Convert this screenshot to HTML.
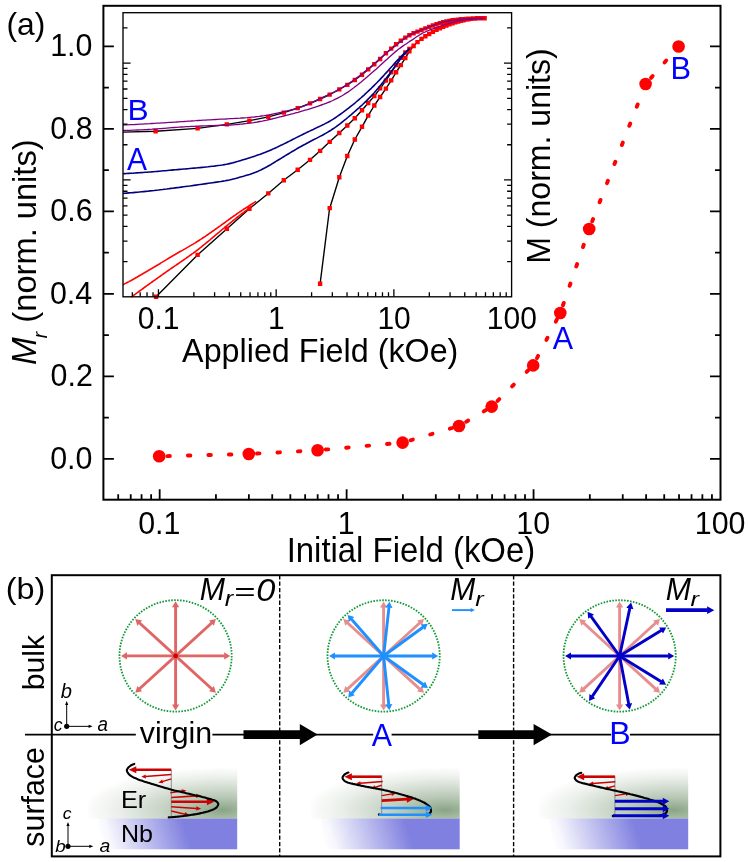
<!DOCTYPE html>
<html><head><meta charset="utf-8"><title>figure</title>
<style>html,body{margin:0;padding:0;background:#fff}svg{display:block}text{font-family:"Liberation Sans",sans-serif}</style>
</head><body>
<svg width="748" height="862" viewBox="0 0 748 862">
<rect width="748" height="862" fill="#fff"/>
<g style="opacity:0.9999">
<rect x="103.4" y="5.8" width="617.10" height="493.90" fill="none" stroke="#000" stroke-width="2"/>
<path d="M103.4 458.80h10.5M720.5 458.80h-10.5M103.4 417.55h5.5M720.5 417.55h-5.5M103.4 376.30h10.5M720.5 376.30h-10.5M103.4 335.05h5.5M720.5 335.05h-5.5M103.4 293.80h10.5M720.5 293.80h-10.5M103.4 252.55h5.5M720.5 252.55h-5.5M103.4 211.30h10.5M720.5 211.30h-10.5M103.4 170.05h5.5M720.5 170.05h-5.5M103.4 128.80h10.5M720.5 128.80h-10.5M103.4 87.55h5.5M720.5 87.55h-5.5M103.4 46.30h10.5M720.5 46.30h-10.5M118.20 499.7v-5.5M130.72 499.7v-5.5M141.56 499.7v-5.5M151.12 499.7v-5.5M159.68 499.7v-10.5M215.95 499.7v-5.5M248.87 499.7v-5.5M272.23 499.7v-5.5M290.34 499.7v-5.5M305.14 499.7v-5.5M317.66 499.7v-5.5M328.50 499.7v-5.5M338.06 499.7v-5.5M346.62 499.7v-10.5M402.89 499.7v-5.5M435.81 499.7v-5.5M459.17 499.7v-5.5M477.28 499.7v-5.5M492.09 499.7v-5.5M504.60 499.7v-5.5M515.44 499.7v-5.5M525.00 499.7v-5.5M533.56 499.7v-10.5M589.83 499.7v-5.5M622.75 499.7v-5.5M646.11 499.7v-5.5M664.22 499.7v-5.5M679.03 499.7v-5.5M691.54 499.7v-5.5M702.38 499.7v-5.5M711.95 499.7v-5.5" stroke="#000" stroke-width="1.8" fill="none"/>
<text transform="translate(50.18,468.60) scale(1,1.04)" font-family="Liberation Sans, sans-serif" font-size="30.40" font-style="normal" fill="#000">0.0</text>
<text transform="translate(50.56,386.10) scale(1,1.04)" font-family="Liberation Sans, sans-serif" font-size="30.40" font-style="normal" fill="#000">0.2</text>
<text transform="translate(49.88,303.60) scale(1,1.04)" font-family="Liberation Sans, sans-serif" font-size="30.40" font-style="normal" fill="#000">0.4</text>
<text transform="translate(50.34,221.10) scale(1,1.04)" font-family="Liberation Sans, sans-serif" font-size="30.40" font-style="normal" fill="#000">0.6</text>
<text transform="translate(50.34,138.60) scale(1,1.04)" font-family="Liberation Sans, sans-serif" font-size="30.40" font-style="normal" fill="#000">0.8</text>
<text transform="translate(50.18,56.10) scale(1,1.04)" font-family="Liberation Sans, sans-serif" font-size="30.40" font-style="normal" fill="#000">1.0</text>
<text transform="translate(138.14,534.30) scale(1,1.04)" font-family="Liberation Sans, sans-serif" font-size="30.40" font-style="normal" fill="#000">0.1</text>
<text transform="translate(337.76,534.30) scale(1,1.04)" font-family="Liberation Sans, sans-serif" font-size="30.40" font-style="normal" fill="#000">1</text>
<text transform="translate(516.25,534.30) scale(1,1.04)" font-family="Liberation Sans, sans-serif" font-size="30.40" font-style="normal" fill="#000">10</text>
<text transform="translate(694.74,534.30) scale(1,1.04)" font-family="Liberation Sans, sans-serif" font-size="30.40" font-style="normal" fill="#000">100</text>
<text transform="translate(286.66,561.80) scale(1,1.0400)" font-family="Liberation Sans, sans-serif" font-size="32.89" font-style="normal" fill="#000">Initial Field (kOe)</text>
<text transform="translate(36.10,365.10) rotate(-90) scale(1,1.0317)" font-family="Liberation Sans, sans-serif" font-size="33.27" font-style="italic" fill="#000">M</text>
<text transform="translate(47.30,338.14) rotate(-90) scale(1,0.9959)" font-family="Liberation Sans, sans-serif" font-size="19.43" font-style="italic" fill="#000">r</text>
<text transform="translate(36.10,322.64) rotate(-90) scale(1,1.0400)" font-family="Liberation Sans, sans-serif" font-size="32.67" font-style="normal" fill="#000">(norm. units)</text>
<text transform="translate(6.51,35.41) scale(1,0.9679)" font-family="Liberation Sans, sans-serif" font-size="31.80" font-style="normal" fill="#000">(a)</text>
<line x1="159.2" y1="456.3" x2="248.8" y2="454.0" stroke="#f00" stroke-width="3.9" stroke-linecap="round" stroke-dasharray="2.5 18.0" stroke-dashoffset="-8.2"/>
<line x1="248.8" y1="454.0" x2="317.6" y2="450.3" stroke="#f00" stroke-width="3.9" stroke-linecap="round" stroke-dasharray="2.5 18.0" stroke-dashoffset="-8.2"/>
<line x1="317.6" y1="450.3" x2="402.6" y2="442.6" stroke="#f00" stroke-width="3.9" stroke-linecap="round" stroke-dasharray="2.5 18.0" stroke-dashoffset="-8.2"/>
<line x1="402.6" y1="442.6" x2="459.0" y2="426.0" stroke="#f00" stroke-width="3.9" stroke-linecap="round" stroke-dasharray="2.5 18.0" stroke-dashoffset="-8.2"/>
<line x1="459.0" y1="426.0" x2="491.7" y2="406.6" stroke="#f00" stroke-width="3.9" stroke-linecap="round" stroke-dasharray="2.5 18.0" stroke-dashoffset="-8.2"/>
<line x1="491.7" y1="406.6" x2="533.2" y2="365.4" stroke="#f00" stroke-width="3.9" stroke-linecap="round" stroke-dasharray="2.5 18.0" stroke-dashoffset="-8.2"/>
<line x1="533.2" y1="365.4" x2="560.3" y2="313.0" stroke="#f00" stroke-width="3.9" stroke-linecap="round" stroke-dasharray="2.5 18.0" stroke-dashoffset="-8.2"/>
<line x1="560.3" y1="313.0" x2="589.2" y2="229.0" stroke="#f00" stroke-width="3.9" stroke-linecap="round" stroke-dasharray="2.5 18.0" stroke-dashoffset="-8.2"/>
<line x1="589.2" y1="229.0" x2="645.6" y2="84.0" stroke="#f00" stroke-width="3.9" stroke-linecap="round" stroke-dasharray="2.5 18.0" stroke-dashoffset="-8.2"/>
<line x1="645.6" y1="84.0" x2="678.6" y2="46.5" stroke="#f00" stroke-width="3.9" stroke-linecap="round" stroke-dasharray="2.5 18.0" stroke-dashoffset="-8.2"/>
<circle cx="159.2" cy="456.3" r="6.3" fill="#f00"/>
<circle cx="248.8" cy="454.0" r="6.3" fill="#f00"/>
<circle cx="317.6" cy="450.3" r="6.3" fill="#f00"/>
<circle cx="402.6" cy="442.6" r="6.3" fill="#f00"/>
<circle cx="459.0" cy="426.0" r="6.3" fill="#f00"/>
<circle cx="491.7" cy="406.6" r="6.3" fill="#f00"/>
<circle cx="533.2" cy="365.4" r="6.3" fill="#f00"/>
<circle cx="560.3" cy="313.0" r="6.3" fill="#f00"/>
<circle cx="589.2" cy="229.0" r="6.3" fill="#f00"/>
<circle cx="645.6" cy="84.0" r="6.3" fill="#f00"/>
<circle cx="678.6" cy="46.5" r="6.3" fill="#f00"/>
<text transform="translate(552.72,348.90) scale(1,1.0400)" font-family="Liberation Sans, sans-serif" font-size="30.49" font-style="normal" fill="#00f">A</text>
<text transform="translate(670.46,79.40) scale(1,1.0060)" font-family="Liberation Sans, sans-serif" font-size="30.80" font-style="normal" fill="#00f">B</text>
<clipPath id="ic"><rect x="123.0" y="12.7" width="388.60" height="286.50"/></clipPath>
<g clip-path="url(#ic)">
<polyline points="122.7,132.1 155.6,131.3 197.5,128.4 227.0,124.4 249.7,120.6 268.4,116.9 283.9,112.6 297.8,108.1 309.8,103.5 320.0,99.0 330.0,94.5 339.3,89.4 347.3,84.9 354.8,80.0 362.0,74.7 368.2,69.4 374.3,64.2 379.9,59.2 385.6,53.6 390.9,48.9 395.7,44.6 400.4,41.0 404.8,37.9 409.1,35.5 413.4,33.3 417.3,31.7 421.3,30.1 430.0,26.6 439.5,23.2 448.0,21.2 456.9,19.7 465.8,18.9 474.3,18.4 484.6,18.2" fill="none" stroke="#000" stroke-width="1.4" stroke-linejoin="round"/>
<polyline points="156.1,296.7 197.8,254.7 226.7,228.9 249.1,209.0 268.2,193.5 283.7,180.3 297.7,169.7 310.1,159.8 320.2,150.8 330.0,141.6 339.3,133.0 347.3,125.5 354.8,118.3 362.0,110.3 368.2,103.0 374.3,96.1 380.2,88.3 386.1,80.3 391.4,72.0 396.3,64.8 401.0,57.6 405.6,52.2 409.6,48.8 414.0,45.4 417.8,41.8 421.8,38.7 425.6,36.1 430.0,33.5 434.3,30.9 438.6,28.8 443.0,26.9 448.2,24.8 453.4,23.0 460.4,21.0 467.3,19.4 474.3,18.5 484.6,18.2" fill="none" stroke="#000" stroke-width="1.4" stroke-linejoin="round"/>
<polyline points="320.0,284.7 329.5,209.0 339.4,177.0 347.3,156.0 354.8,139.5 362.0,126.8 368.2,115.6 374.3,105.5 380.2,96.9 386.1,88.3 391.4,80.1 396.3,72.0 401.0,64.8 405.6,57.6 409.6,50.9 414.0,45.6" fill="none" stroke="#000" stroke-width="1.4" stroke-linejoin="round"/>
<polyline points="122.8,284.8 123.7,284.4 124.6,283.9 125.5,283.4 126.3,283.0 127.2,282.5 128.1,282.1 129.0,281.6 129.8,281.1 130.7,280.7 131.6,280.2 132.4,279.7 133.3,279.2 134.2,278.8 135.0,278.3 135.9,277.8 136.8,277.3 137.6,276.8 138.5,276.3 139.3,275.8 140.2,275.3 141.1,274.8 141.9,274.3 142.8,273.8 143.6,273.3 144.5,272.8 145.3,272.3 146.2,271.8 147.0,271.3 147.9,270.8 148.7,270.3 149.6,269.8 150.4,269.3 151.3,268.8 152.1,268.3 153.0,267.8 153.8,267.3 154.7,266.7 155.5,266.2 156.4,265.7 157.2,265.2 158.1,264.7 158.9,264.2 159.8,263.7 160.6,263.2 161.4,262.6 162.3,262.1 163.1,261.6 164.0,261.1 164.8,260.6 165.7,260.1 166.5,259.6 167.4,259.1 168.2,258.5 169.1,258.0 169.9,257.5 170.8,257.0 171.6,256.5 172.5,256.0 173.3,255.5 174.2,255.0 175.1,254.5 175.9,254.0 176.8,253.5 177.6,253.0 178.5,252.5 179.3,252.0 180.2,251.5 181.1,251.0 181.9,250.6 182.8,250.1 183.6,249.6 184.5,249.1 185.4,248.6 186.2,248.1 187.1,247.6 187.9,247.1 188.8,246.6 189.6,246.1 190.5,245.6 191.4,245.1 192.2,244.6 193.1,244.1 193.9,243.6 194.8,243.1 195.6,242.6 196.4,242.0 197.3,241.5 198.1,241.0 199.0,240.5 199.8,239.9 200.6,239.4 201.5,238.9 202.3,238.3 203.1,237.8 203.9,237.2 204.8,236.7 205.6,236.1 206.4,235.6 207.2,235.0 208.0,234.5 208.8,233.9 209.7,233.3 210.5,232.8 211.3,232.2 212.1,231.6 212.9,231.0 213.7,230.5 214.5,229.9 215.3,229.3 216.1,228.8 216.9,228.2 217.7,227.6 218.6,227.0 219.4,226.4 220.2,225.9 221.0,225.3 221.8,224.7 222.6,224.1 223.4,223.5 224.2,223.0 225.0,222.4 225.8,221.8 226.6,221.2 227.4,220.6 228.2,220.1 229.0,219.5 229.8,218.9 230.6,218.3 231.4,217.8 232.2,217.2 233.0,216.6 233.8,216.0 234.6,215.5 235.5,214.9 236.3,214.3 237.1,213.8 237.9,213.2 238.7,212.6 239.5,212.1 240.3,211.5 241.2,211.0 242.0,210.4 242.8,209.9 243.6,209.3 244.4,208.8 245.3,208.2 246.1,207.7 246.9,207.1 247.8,206.6 248.6,206.1 249.4,205.5 250.3,205.0 251.1,204.5 252.0,204.0 252.8,203.4 253.6,202.9 254.5,202.4 255.3,201.9 256.2,201.4" fill="none" stroke="#f00" stroke-width="1.6" stroke-linejoin="round" />
<polyline points="131.2,297.2 132.0,296.6 132.7,296.1 133.5,295.5 134.3,294.9 135.0,294.4 135.8,293.8 136.6,293.2 137.3,292.7 138.1,292.1 138.9,291.5 139.6,291.0 140.4,290.4 141.2,289.8 141.9,289.3 142.7,288.7 143.5,288.2 144.2,287.6 145.0,287.0 145.8,286.5 146.5,285.9 147.3,285.4 148.1,284.8 148.9,284.3 149.6,283.7 150.4,283.1 151.2,282.6 152.0,282.0 152.7,281.5 153.5,280.9 154.3,280.4 155.1,279.8 155.8,279.3 156.6,278.7 157.4,278.2 158.2,277.6 158.9,277.1 159.7,276.5 160.5,276.0 161.3,275.4 162.0,274.9 162.8,274.3 163.6,273.8 164.4,273.2 165.2,272.7 165.9,272.1 166.7,271.6 167.5,271.0 168.3,270.5 169.1,270.0 169.8,269.4 170.6,268.9 171.4,268.3 172.2,267.8 173.0,267.2 173.8,266.7 174.5,266.2 175.3,265.6 176.1,265.1 176.9,264.5 177.7,264.0 178.5,263.5 179.3,262.9 180.0,262.4 180.8,261.9 181.6,261.3 182.4,260.8 183.2,260.2 184.0,259.7 184.7,259.1 185.5,258.6 186.3,258.1 187.1,257.5 187.9,257.0 188.6,256.4 189.4,255.9 190.2,255.3 191.0,254.8 191.7,254.2 192.5,253.6 193.3,253.1 194.1,252.5 194.8,252.0 195.6,251.4 196.3,250.8 197.1,250.2 197.9,249.7 198.6,249.1 199.4,248.5 200.1,247.9 200.9,247.3 201.6,246.7 202.3,246.1 203.1,245.5 203.8,244.9 204.6,244.3 205.3,243.7 206.0,243.1 206.8,242.5 207.5,241.9 208.2,241.3 209.0,240.7 209.7,240.1 210.4,239.5 211.1,238.8 211.9,238.2 212.6,237.6 213.3,237.0 214.1,236.4 214.8,235.8 215.5,235.2 216.2,234.5 217.0,233.9 217.7,233.3 218.4,232.7 219.2,232.1 219.9,231.5 220.6,230.9 221.3,230.2 222.1,229.6 222.8,229.0 223.5,228.4 224.3,227.8 225.0,227.2 225.7,226.6 226.5,226.0 227.2,225.4 227.9,224.8 228.7,224.2 229.4,223.6 230.2,223.0 230.9,222.4 231.6,221.8 232.4,221.2 233.1,220.6 233.9,220.0 234.6,219.4 235.4,218.8 236.1,218.2 236.8,217.6 237.6,217.0 238.3,216.5 239.1,215.9 239.8,215.3 240.6,214.7 241.3,214.1 242.1,213.5 242.9,213.0 243.6,212.4 244.4,211.8 245.1,211.2 245.9,210.6 246.6,210.1 247.4,209.5 248.2,208.9 248.9,208.4 249.7,207.8 250.5,207.2 251.2,206.7 252.0,206.1" fill="none" stroke="#f00" stroke-width="1.6" stroke-linejoin="round" />
<path d="M153.4 129.1h4.4v4.4h-4.4zM195.4 126.2h4.4v4.4h-4.4zM224.6 122.2h4.4v4.4h-4.4zM247.2 118.5h4.4v4.4h-4.4zM266.1 114.7h4.4v4.4h-4.4zM281.6 110.4h4.4v4.4h-4.4zM295.5 105.9h4.4v4.4h-4.4zM307.8 101.2h4.4v4.4h-4.4zM317.9 96.8h4.4v4.4h-4.4zM327.5 92.4h4.4v4.4h-4.4zM337.1 87.2h4.4v4.4h-4.4zM345.1 82.7h4.4v4.4h-4.4zM352.6 77.8h4.4v4.4h-4.4zM359.8 72.5h4.4v4.4h-4.4zM366.0 67.2h4.4v4.4h-4.4zM372.1 62.0h4.4v4.4h-4.4zM377.9 56.8h4.4v4.4h-4.4zM383.7 51.1h4.4v4.4h-4.4zM389.0 46.4h4.4v4.4h-4.4zM393.9 42.1h4.4v4.4h-4.4zM398.6 38.5h4.4v4.4h-4.4zM403.1 35.4h4.4v4.4h-4.4zM407.2 33.1h4.4v4.4h-4.4zM411.4 31.0h4.4v4.4h-4.4zM415.3 29.4h4.4v4.4h-4.4zM419.3 27.8h4.4v4.4h-4.4zM423.2 26.2h4.4v4.4h-4.4zM427.0 24.7h4.4v4.4h-4.4zM430.7 23.3h4.4v4.4h-4.4zM434.3 22.0h4.4v4.4h-4.4zM437.7 20.9h4.4v4.4h-4.4zM441.0 20.0h4.4v4.4h-4.4zM444.2 19.3h4.4v4.4h-4.4zM447.3 18.7h4.4v4.4h-4.4zM450.3 18.1h4.4v4.4h-4.4zM453.2 17.7h4.4v4.4h-4.4zM456.0 17.4h4.4v4.4h-4.4zM458.7 17.1h4.4v4.4h-4.4zM461.3 16.9h4.4v4.4h-4.4zM463.8 16.7h4.4v4.4h-4.4zM466.2 16.5h4.4v4.4h-4.4zM468.5 16.4h4.4v4.4h-4.4zM470.8 16.2h4.4v4.4h-4.4zM472.9 16.2h4.4v4.4h-4.4zM475.0 16.1h4.4v4.4h-4.4zM477.0 16.1h4.4v4.4h-4.4zM479.0 16.1h4.4v4.4h-4.4zM480.9 16.1h4.4v4.4h-4.4zM482.4 16.1h4.4v4.4h-4.4zM153.9 294.5h4.4v4.4h-4.4zM195.4 252.7h4.4v4.4h-4.4zM224.6 226.6h4.4v4.4h-4.4zM247.2 206.5h4.4v4.4h-4.4zM266.1 191.2h4.4v4.4h-4.4zM281.6 178.0h4.4v4.4h-4.4zM295.5 167.5h4.4v4.4h-4.4zM307.8 157.7h4.4v4.4h-4.4zM317.9 148.7h4.4v4.4h-4.4zM327.5 139.7h4.4v4.4h-4.4zM337.1 130.8h4.4v4.4h-4.4zM345.1 123.3h4.4v4.4h-4.4zM352.6 116.1h4.4v4.4h-4.4zM359.8 108.1h4.4v4.4h-4.4zM366.0 100.8h4.4v4.4h-4.4zM372.1 93.9h4.4v4.4h-4.4zM377.9 86.2h4.4v4.4h-4.4zM383.7 78.4h4.4v4.4h-4.4zM389.0 70.1h4.4v4.4h-4.4zM393.9 62.9h4.4v4.4h-4.4zM398.6 55.7h4.4v4.4h-4.4zM403.1 50.3h4.4v4.4h-4.4zM407.2 46.8h4.4v4.4h-4.4zM411.4 43.5h4.4v4.4h-4.4zM415.3 39.9h4.4v4.4h-4.4zM419.3 36.7h4.4v4.4h-4.4zM423.2 34.0h4.4v4.4h-4.4zM427.0 31.8h4.4v4.4h-4.4zM430.7 29.5h4.4v4.4h-4.4zM434.3 27.6h4.4v4.4h-4.4zM437.7 26.0h4.4v4.4h-4.4zM441.0 24.6h4.4v4.4h-4.4zM444.2 23.3h4.4v4.4h-4.4zM447.3 22.1h4.4v4.4h-4.4zM450.3 21.1h4.4v4.4h-4.4zM453.2 20.2h4.4v4.4h-4.4zM456.0 19.4h4.4v4.4h-4.4zM458.7 18.7h4.4v4.4h-4.4zM461.3 18.0h4.4v4.4h-4.4zM463.8 17.4h4.4v4.4h-4.4zM466.2 17.0h4.4v4.4h-4.4zM468.5 16.7h4.4v4.4h-4.4zM470.8 16.4h4.4v4.4h-4.4zM472.9 16.3h4.4v4.4h-4.4zM475.0 16.2h4.4v4.4h-4.4zM477.0 16.1h4.4v4.4h-4.4zM479.0 16.1h4.4v4.4h-4.4zM480.9 16.1h4.4v4.4h-4.4zM482.4 16.1h4.4v4.4h-4.4zM317.9 281.5h4.4v4.4h-4.4zM327.5 205.9h4.4v4.4h-4.4zM337.1 175.1h4.4v4.4h-4.4zM345.1 153.8h4.4v4.4h-4.4zM352.6 137.3h4.4v4.4h-4.4zM359.8 124.6h4.4v4.4h-4.4zM366.0 113.4h4.4v4.4h-4.4zM372.1 103.3h4.4v4.4h-4.4zM377.9 94.8h4.4v4.4h-4.4zM383.7 86.4h4.4v4.4h-4.4zM389.0 78.2h4.4v4.4h-4.4zM393.9 70.1h4.4v4.4h-4.4zM398.6 62.9h4.4v4.4h-4.4zM403.1 55.9h4.4v4.4h-4.4zM407.2 49.0h4.4v4.4h-4.4zM411.4 43.8h4.4v4.4h-4.4z" fill="#f00"/>
<polyline points="122.7,173.7 124.7,173.6 126.8,173.5 128.8,173.4 130.9,173.3 132.9,173.2 134.9,173.0 137.0,172.9 139.0,172.8 141.0,172.6 143.1,172.5 145.1,172.3 147.2,172.2 149.2,172.0 151.2,171.9 153.3,171.7 155.3,171.5 157.3,171.4 159.4,171.2 161.4,171.0 163.4,170.8 165.5,170.7 167.5,170.5 169.5,170.3 171.6,170.1 173.6,169.9 175.6,169.8 177.7,169.6 179.7,169.4 181.7,169.2 183.8,169.0 185.8,168.9 187.8,168.7 189.9,168.5 191.9,168.3 193.9,168.1 196.0,168.0 198.0,167.8 200.0,167.6 202.1,167.4 204.1,167.2 206.1,167.0 208.2,166.8 210.2,166.5 212.2,166.3 214.3,166.1 216.3,165.8 218.3,165.5 220.3,165.3 222.4,165.0 224.4,164.6 226.4,164.3 228.4,163.9 230.4,163.4 232.3,162.9 234.3,162.4 236.3,161.8 238.2,161.3 240.2,160.7 242.2,160.1 244.1,159.5 246.1,158.9 248.0,158.3 250.0,157.7 251.9,157.1 253.9,156.4 255.8,155.8 257.7,155.1 259.6,154.5 261.6,153.7 263.5,153.0 265.4,152.3 267.3,151.5 269.1,150.7 271.0,149.9 272.9,149.1 274.8,148.2 276.6,147.4 278.5,146.5 280.3,145.6 282.2,144.8 284.0,143.9 285.8,143.0 287.7,142.0 289.5,141.1 291.3,140.2 293.1,139.3 294.9,138.4 296.8,137.4 298.6,136.5 300.4,135.6 302.2,134.7 304.1,133.8 305.9,132.9 307.7,132.0 309.6,131.1 311.4,130.2 313.3,129.4 315.1,128.5 317.0,127.6 318.8,126.8 320.7,125.9 322.5,125.0 324.3,124.1 326.1,123.1 327.9,122.2 329.7,121.2 331.5,120.1 333.2,119.1 334.9,118.0 336.6,116.8 338.3,115.7 340.0,114.5 341.6,113.3 343.3,112.1 344.9,110.9 346.6,109.6 348.2,108.4 349.8,107.1 351.4,105.8 353.0,104.6 354.6,103.3 356.1,102.0 357.7,100.7 359.2,99.3 360.8,98.0 362.3,96.6 363.8,95.3 365.3,93.9 366.8,92.5 368.3,91.1 369.8,89.7 371.3,88.3 372.7,86.9 374.2,85.4 375.6,84.0 377.1,82.5 378.5,81.0 379.9,79.6 381.3,78.1 382.7,76.6 384.1,75.1 385.4,73.6 386.8,72.1 388.2,70.6 389.5,69.0 390.9,67.5 392.3,66.0 393.6,64.5 395.0,62.9 396.4,61.4 397.8,59.9 399.2,58.5 400.6,57.0 402.0,55.6 403.5,54.1 405.0,52.7 406.5,51.4 408.0,50.0 409.6,48.7" fill="none" stroke="#000080" stroke-width="1.6" stroke-linejoin="round" />
<polyline points="122.7,193.4 124.8,193.3 126.9,193.1 129.0,192.9 131.1,192.8 133.2,192.6 135.3,192.4 137.4,192.2 139.5,192.0 141.6,191.8 143.7,191.6 145.8,191.4 147.9,191.2 150.0,190.9 152.1,190.7 154.2,190.5 156.3,190.2 158.4,190.0 160.5,189.7 162.5,189.5 164.6,189.2 166.7,189.0 168.8,188.7 170.9,188.4 173.0,188.2 175.1,187.9 177.2,187.6 179.3,187.4 181.4,187.1 183.4,186.8 185.5,186.5 187.6,186.2 189.7,186.0 191.8,185.7 193.9,185.4 196.0,185.1 198.1,184.8 200.1,184.5 202.2,184.2 204.3,183.9 206.4,183.6 208.5,183.3 210.6,183.0 212.7,182.7 214.8,182.4 216.8,182.1 218.9,181.8 221.0,181.5 223.1,181.1 225.2,180.8 227.2,180.4 229.3,180.0 231.4,179.5 233.4,179.0 235.4,178.5 237.5,177.9 239.5,177.3 241.5,176.7 243.6,176.2 245.6,175.6 247.6,175.0 249.6,174.4 251.6,173.7 253.6,173.0 255.6,172.3 257.5,171.5 259.4,170.6 261.3,169.7 263.2,168.7 265.1,167.8 267.0,166.8 268.8,165.7 270.6,164.7 272.4,163.6 274.2,162.5 276.0,161.4 277.8,160.3 279.6,159.2 281.4,158.1 283.2,157.0 285.0,155.9 286.8,154.8 288.6,153.7 290.4,152.6 292.2,151.5 294.1,150.5 295.9,149.4 297.7,148.3 299.5,147.3 301.4,146.3 303.2,145.2 305.1,144.2 306.9,143.2 308.8,142.2 310.6,141.3 312.5,140.3 314.4,139.3 316.3,138.4 318.2,137.4 320.0,136.4 321.9,135.5 323.7,134.5 325.6,133.4 327.4,132.4 329.2,131.3 331.0,130.2 332.7,129.0 334.5,127.8 336.2,126.6 337.9,125.3 339.6,124.1 341.2,122.8 342.9,121.5 344.5,120.1 346.2,118.8 347.8,117.5 349.4,116.1 351.0,114.8 352.6,113.4 354.2,112.0 355.8,110.6 357.4,109.2 359.0,107.8 360.5,106.4 362.1,105.0 363.6,103.5 365.1,102.1 366.7,100.6 368.1,99.1 369.6,97.6 371.1,96.1 372.5,94.6 374.0,93.0 375.4,91.4 376.7,89.8 378.1,88.2 379.5,86.6 380.8,85.0 382.1,83.3 383.4,81.7 384.7,80.0 386.0,78.4 387.3,76.7 388.6,75.0 389.9,73.4 391.2,71.7 392.4,70.0 393.7,68.3 395.0,66.6 396.2,64.9 397.4,63.2 398.7,61.5 399.9,59.8 401.2,58.1 402.5,56.5 403.8,54.9 405.2,53.3 406.6,51.7 408.1,50.2 409.6,48.7" fill="none" stroke="#000080" stroke-width="1.6" stroke-linejoin="round" />
<polyline points="122.7,125.0 125.1,124.9 127.6,124.8 130.0,124.7 132.5,124.6 134.9,124.5 137.3,124.3 139.8,124.2 142.2,124.1 144.7,123.9 147.1,123.8 149.5,123.7 152.0,123.5 154.4,123.4 156.9,123.2 159.3,123.1 161.7,122.9 164.2,122.8 166.6,122.6 169.0,122.4 171.5,122.3 173.9,122.1 176.4,122.0 178.8,121.8 181.2,121.6 183.7,121.5 186.1,121.3 188.5,121.1 191.0,121.0 193.4,120.8 195.9,120.7 198.3,120.5 200.7,120.4 203.2,120.2 205.6,120.1 208.1,119.9 210.5,119.8 212.9,119.6 215.4,119.5 217.8,119.4 220.2,119.2 222.7,119.1 225.1,119.0 227.6,118.8 230.0,118.7 232.4,118.6 234.9,118.4 237.3,118.3 239.8,118.2 242.2,118.0 244.7,117.8 247.1,117.7 249.5,117.4 252.0,117.2 254.4,117.0 256.8,116.7 259.2,116.4 261.6,116.0 264.1,115.7 266.5,115.3 268.9,114.9 271.3,114.4 273.7,113.9 276.1,113.4 278.5,112.9 280.9,112.4 283.2,111.9 285.6,111.3 288.0,110.7 290.4,110.1 292.8,109.5 295.1,108.8 297.5,108.1 299.8,107.4 302.1,106.6 304.4,105.8 306.7,104.9 308.9,104.0 311.2,103.0 313.4,101.9 315.6,100.9 317.8,99.8 320.0,98.7 322.2,97.7 324.4,96.6 326.6,95.6 328.8,94.6 331.0,93.6 333.2,92.5 335.4,91.4 337.6,90.2 339.7,89.0 341.8,87.8 343.9,86.5 346.0,85.3 348.0,83.9 350.1,82.6 352.1,81.2 354.1,79.8 356.1,78.4 358.1,76.9 360.0,75.5 361.9,74.0 363.8,72.4 365.7,70.9 367.6,69.3 369.5,67.8 371.3,66.2 373.2,64.6 375.0,63.0 376.9,61.3 378.7,59.7 380.5,58.1 382.4,56.5 384.2,54.9 386.1,53.3 387.9,51.8 389.8,50.2 391.7,48.7 393.7,47.2 395.6,45.7 397.5,44.2 399.4,42.6 401.3,41.1 403.2,39.6 405.2,38.1 407.2,36.6 409.2,35.3 411.3,34.2 413.5,33.1 415.8,32.2 418.1,31.3 420.4,30.4 422.6,29.5 424.9,28.5 427.2,27.6 429.5,26.7 431.7,25.8 434.0,25.0 436.3,24.1 438.6,23.4 441.0,22.7 443.3,22.0 445.7,21.5 448.1,21.0 450.5,20.5 452.9,20.2 455.3,19.8 457.8,19.5 460.2,19.2 462.6,19.0 465.1,18.8 467.5,18.6 469.9,18.5 472.4,18.4 474.8,18.3 477.3,18.2 479.7,18.2 482.2,18.2 484.6,18.2" fill="none" stroke="#800080" stroke-width="1.35" stroke-linejoin="round" />
<polyline points="122.7,130.5 125.2,130.5 127.6,130.4 130.1,130.3 132.5,130.2 135.0,130.1 137.4,130.0 139.9,129.9 142.3,129.8 144.8,129.6 147.2,129.5 149.7,129.3 152.1,129.2 154.6,129.0 157.0,128.8 159.5,128.6 161.9,128.5 164.4,128.3 166.8,128.1 169.3,127.9 171.7,127.7 174.2,127.5 176.6,127.4 179.1,127.2 181.5,127.0 184.0,126.9 186.4,126.7 188.9,126.6 191.3,126.4 193.8,126.3 196.2,126.2 198.7,126.1 201.1,126.0 203.6,125.9 206.0,125.8 208.5,125.7 210.9,125.7 213.4,125.6 215.8,125.5 218.3,125.5 220.7,125.4 223.2,125.3 225.7,125.2 228.1,125.1 230.6,125.0 233.0,124.8 235.5,124.6 237.9,124.5 240.4,124.2 242.8,124.0 245.2,123.7 247.7,123.4 250.1,123.1 252.5,122.8 255.0,122.4 257.4,122.0 259.8,121.5 262.2,121.1 264.6,120.6 267.0,120.1 269.4,119.5 271.8,119.0 274.2,118.4 276.6,117.8 279.0,117.2 281.4,116.6 283.7,116.0 286.1,115.4 288.5,114.8 290.9,114.2 293.2,113.6 295.6,112.9 298.0,112.3 300.3,111.6 302.7,110.9 305.1,110.2 307.4,109.6 309.8,108.8 312.1,108.1 314.4,107.4 316.8,106.6 319.1,105.8 321.4,105.0 323.7,104.2 326.0,103.3 328.3,102.4 330.6,101.5 332.8,100.5 335.0,99.4 337.2,98.3 339.4,97.2 341.6,96.0 343.7,94.7 345.7,93.4 347.8,92.1 349.8,90.7 351.8,89.2 353.8,87.8 355.7,86.3 357.7,84.8 359.6,83.2 361.5,81.7 363.4,80.1 365.3,78.5 367.1,76.9 369.0,75.3 370.8,73.7 372.7,72.1 374.5,70.5 376.4,68.9 378.2,67.2 380.0,65.6 381.8,63.9 383.6,62.3 385.5,60.6 387.3,59.0 389.1,57.3 390.9,55.7 392.8,54.0 394.6,52.4 396.5,50.9 398.4,49.3 400.4,47.9 402.4,46.4 404.4,45.0 406.4,43.7 408.5,42.3 410.5,40.9 412.6,39.6 414.6,38.2 416.6,36.8 418.7,35.5 420.8,34.2 422.9,33.0 425.1,32.0 427.4,31.0 429.6,30.0 431.9,29.1 434.3,28.3 436.6,27.5 438.9,26.7 441.3,25.9 443.6,25.1 445.9,24.4 448.3,23.6 450.6,22.9 453.0,22.3 455.4,21.7 457.7,21.1 460.2,20.7 462.6,20.3 465.0,19.9 467.4,19.6 469.9,19.4 472.3,19.2 474.8,19.0 477.3,18.8 479.7,18.6 482.2,18.5 484.6,18.4" fill="none" stroke="#800080" stroke-width="1.35" stroke-linejoin="round" />
</g>
<rect x="123.0" y="12.7" width="388.60" height="284.10" fill="none" stroke="#000" stroke-width="1.35"/>
<path d="M123.0 261.62h4.5M511.6 261.62h-4.5M123.0 241.05h4.5M511.6 241.05h-4.5M123.0 226.45h4.5M511.6 226.45h-4.5M123.0 215.13h4.5M511.6 215.13h-4.5M123.0 205.87h4.5M511.6 205.87h-4.5M123.0 198.05h4.5M511.6 198.05h-4.5M123.0 191.27h4.5M511.6 191.27h-4.5M123.0 185.30h4.5M511.6 185.30h-4.5M123.0 179.95h7.6M511.6 179.95h-7.6M123.0 144.77h4.5M511.6 144.77h-4.5M123.0 124.20h4.5M511.6 124.20h-4.5M123.0 109.60h4.5M511.6 109.60h-4.5M123.0 98.28h4.5M511.6 98.28h-4.5M123.0 89.02h4.5M511.6 89.02h-4.5M123.0 81.20h4.5M511.6 81.20h-4.5M123.0 74.42h4.5M511.6 74.42h-4.5M123.0 68.45h4.5M511.6 68.45h-4.5M123.0 63.10h7.6M511.6 63.10h-7.6M123.0 27.92h4.5M511.6 27.92h-4.5M132.32 296.8v-4.5M140.20 296.8v-4.5M147.03 296.8v-4.5M153.05 296.8v-4.5M158.44 296.8v-7.6M193.88 296.8v-4.5M214.60 296.8v-4.5M229.31 296.8v-4.5M240.72 296.8v-4.5M250.04 296.8v-4.5M257.92 296.8v-4.5M264.75 296.8v-4.5M270.77 296.8v-4.5M276.16 296.8v-7.6M311.60 296.8v-4.5M332.33 296.8v-4.5M347.03 296.8v-4.5M358.44 296.8v-4.5M367.76 296.8v-4.5M375.64 296.8v-4.5M382.47 296.8v-4.5M388.49 296.8v-4.5M393.88 296.8v-7.6M429.32 296.8v-4.5M450.05 296.8v-4.5M464.75 296.8v-4.5M476.16 296.8v-4.5M485.48 296.8v-4.5M493.36 296.8v-4.5M500.19 296.8v-4.5M506.21 296.8v-4.5" stroke="#000" stroke-width="1.3" fill="none"/>
<text transform="translate(137.78,328.80) scale(1,1.04)" font-family="Liberation Sans, sans-serif" font-size="30.00" font-style="normal" fill="#000">0.1</text>
<text transform="translate(268.02,328.80) scale(1,1.04)" font-family="Liberation Sans, sans-serif" font-size="30.00" font-style="normal" fill="#000">1</text>
<text transform="translate(377.39,328.80) scale(1,1.04)" font-family="Liberation Sans, sans-serif" font-size="30.00" font-style="normal" fill="#000">10</text>
<text transform="translate(486.77,328.80) scale(1,1.04)" font-family="Liberation Sans, sans-serif" font-size="30.00" font-style="normal" fill="#000">100</text>
<text transform="translate(182.12,361.80) scale(1,1.0400)" font-family="Liberation Sans, sans-serif" font-size="32.28" font-style="normal" fill="#000">Applied Field (kOe)</text>
<text transform="translate(550.00,263.74) rotate(-90) scale(1,1.0400)" font-family="Liberation Sans, sans-serif" font-size="32.05" font-style="normal" fill="#000">M (norm. units)</text>
<text transform="translate(127.38,120.40) scale(1,0.9579)" font-family="Liberation Sans, sans-serif" font-size="31.74" font-style="normal" fill="#00f">B</text>
<text transform="translate(127.12,169.70) scale(1,1.0411)" font-family="Liberation Sans, sans-serif" font-size="30.04" font-style="normal" fill="#00f">A</text>
<defs>
<linearGradient id="nb" x1="0" y1="0" x2="1" y2="0"><stop offset="0" stop-color="#8080e0" stop-opacity="0"/>
<stop offset="0.1" stop-color="#8080e0" stop-opacity="0.06"/>
<stop offset="0.62" stop-color="#8080e0" stop-opacity="1"/><stop offset="1" stop-color="#8080e0"/></linearGradient>
</defs>
<radialGradient id="er237" gradientUnits="userSpaceOnUse" cx="0" cy="0" r="1" gradientTransform="translate(222.2 810) scale(140 43)"><stop offset="0" stop-color="#64875f" stop-opacity="0.76"/><stop offset="0.12" stop-color="#64875f" stop-opacity="0.63"/><stop offset="0.3" stop-color="#64875f" stop-opacity="0.46"/><stop offset="0.5" stop-color="#64875f" stop-opacity="0.31"/><stop offset="0.75" stop-color="#64875f" stop-opacity="0.13"/><stop offset="1" stop-color="#64875f" stop-opacity="0"/></radialGradient>
<rect x="88.19999999999999" y="762" width="149.0" height="56.8" fill="url(#er237)"/>
<linearGradient id="nb237" gradientUnits="userSpaceOnUse" x1="98.7" y1="834" x2="178.8" y2="808.8"><stop offset="0" stop-color="#8080e0" stop-opacity="0"/><stop offset="0.12" stop-color="#8080e0" stop-opacity="0.07"/><stop offset="1" stop-color="#8080e0" stop-opacity="1"/></linearGradient>
<rect x="98.7" y="818.6" width="138.5" height="30.7" fill="url(#nb237)"/>
<radialGradient id="er459" gradientUnits="userSpaceOnUse" cx="0" cy="0" r="1" gradientTransform="translate(444.7 810) scale(140 43)"><stop offset="0" stop-color="#64875f" stop-opacity="0.76"/><stop offset="0.12" stop-color="#64875f" stop-opacity="0.63"/><stop offset="0.3" stop-color="#64875f" stop-opacity="0.46"/><stop offset="0.5" stop-color="#64875f" stop-opacity="0.31"/><stop offset="0.75" stop-color="#64875f" stop-opacity="0.13"/><stop offset="1" stop-color="#64875f" stop-opacity="0"/></radialGradient>
<rect x="310.7" y="762" width="149.0" height="56.8" fill="url(#er459)"/>
<linearGradient id="nb459" gradientUnits="userSpaceOnUse" x1="321.2" y1="834" x2="401.3" y2="808.8"><stop offset="0" stop-color="#8080e0" stop-opacity="0"/><stop offset="0.12" stop-color="#8080e0" stop-opacity="0.07"/><stop offset="1" stop-color="#8080e0" stop-opacity="1"/></linearGradient>
<rect x="321.2" y="818.6" width="138.5" height="30.7" fill="url(#nb459)"/>
<radialGradient id="er688" gradientUnits="userSpaceOnUse" cx="0" cy="0" r="1" gradientTransform="translate(673.2 810) scale(140 43)"><stop offset="0" stop-color="#64875f" stop-opacity="0.76"/><stop offset="0.12" stop-color="#64875f" stop-opacity="0.63"/><stop offset="0.3" stop-color="#64875f" stop-opacity="0.46"/><stop offset="0.5" stop-color="#64875f" stop-opacity="0.31"/><stop offset="0.75" stop-color="#64875f" stop-opacity="0.13"/><stop offset="1" stop-color="#64875f" stop-opacity="0"/></radialGradient>
<rect x="539.2" y="762" width="149.0" height="56.8" fill="url(#er688)"/>
<linearGradient id="nb688" gradientUnits="userSpaceOnUse" x1="549.7" y1="834" x2="629.8" y2="808.8"><stop offset="0" stop-color="#8080e0" stop-opacity="0"/><stop offset="0.12" stop-color="#8080e0" stop-opacity="0.07"/><stop offset="1" stop-color="#8080e0" stop-opacity="1"/></linearGradient>
<rect x="549.7" y="818.6" width="138.5" height="30.7" fill="url(#nb688)"/>
<rect x="51.8" y="575.2" width="668.60" height="281.20" fill="none" stroke="#000" stroke-width="2"/>
<path d="M25 734.6H720.4" stroke="#000" stroke-width="1.7"/>
<path d="M279.7 575.2V856.4M513.6 575.2V856.4" stroke="#000" stroke-width="1.4" stroke-dasharray="4.3 2.05" fill="none"/>
<path d="M243.5 730.2H299.8V724.0L317.6 734.6L299.8 745.2V739.0H243.5z" fill="#000"/>
<path d="M478.3 730.2H533.6V724.0L552.0 734.6L533.6 745.2V739.0H478.3z" fill="#000"/>
<rect x="135.8" y="722.6" width="76.6" height="24" fill="#fff"/>
<text transform="translate(139.75,742.86) scale(1,0.9757)" font-family="Liberation Sans, sans-serif" font-size="30.33" font-style="normal" fill="#000">virgin</text>
<rect x="373.2" y="722.6" width="18.4" height="24" fill="#fff"/>
<text transform="translate(371.82,746.10) scale(1,1.0595)" font-family="Liberation Sans, sans-serif" font-size="30.34" font-style="normal" fill="#00f">A</text>
<rect x="611.2" y="722.6" width="18.7" height="24" fill="#fff"/>
<text transform="translate(609.35,744.40) scale(1,0.9738)" font-family="Liberation Sans, sans-serif" font-size="32.11" font-style="normal" fill="#00f">B</text>
<text transform="translate(5.77,598.70) scale(1,0.9058)" font-family="Liberation Sans, sans-serif" font-size="32.44" font-style="normal" fill="#000">(b)</text>
<text transform="translate(43.60,690.16) rotate(-90) scale(1,1.0075)" font-family="Liberation Sans, sans-serif" font-size="30.11" font-style="normal" fill="#000">bulk</text>
<text transform="translate(43.79,846.64) rotate(-90) scale(1,1.0340)" font-family="Liberation Sans, sans-serif" font-size="30.37" font-style="normal" fill="#000">surface</text>
<ellipse cx="175.6" cy="655.9" rx="56.1" ry="55.7" fill="none" stroke="#119a33" stroke-width="1.8" stroke-dasharray="1.6 1.372"/>
<ellipse cx="383.65" cy="655.95" rx="56.1" ry="55.7" fill="none" stroke="#119a33" stroke-width="1.8" stroke-dasharray="1.6 1.372"/>
<ellipse cx="619.65" cy="655.95" rx="56.1" ry="55.7" fill="none" stroke="#119a33" stroke-width="1.8" stroke-dasharray="1.6 1.372"/>
<path d="M175.6 655.9L224.7 655.9" stroke="#e06666" stroke-width="2.9" fill="none"/>
<path d="M230.2 655.9L224.2 659.5L224.2 652.3z" fill="#e06666"/>
<path d="M175.6 655.9L211.9 622.8" stroke="#e06666" stroke-width="2.9" fill="none"/>
<path d="M215.9 619.1L213.9 625.8L209.1 620.5z" fill="#e06666"/>
<path d="M175.6 655.9L175.6 606.8" stroke="#e06666" stroke-width="2.9" fill="none"/>
<path d="M175.6 601.3L179.2 607.3L172.0 607.3z" fill="#e06666"/>
<path d="M175.6 655.9L139.3 622.8" stroke="#e06666" stroke-width="2.9" fill="none"/>
<path d="M135.3 619.1L142.1 620.5L137.3 625.8z" fill="#e06666"/>
<path d="M175.6 655.9L126.5 655.9" stroke="#e06666" stroke-width="2.9" fill="none"/>
<path d="M121.0 655.9L127.0 652.3L127.0 659.5z" fill="#e06666"/>
<path d="M175.6 655.9L139.3 689.0" stroke="#e06666" stroke-width="2.9" fill="none"/>
<path d="M135.3 692.7L137.3 686.0L142.1 691.3z" fill="#e06666"/>
<path d="M175.6 655.9L175.6 705.0" stroke="#e06666" stroke-width="2.9" fill="none"/>
<path d="M175.6 710.5L172.0 704.5L179.2 704.5z" fill="#e06666"/>
<path d="M175.6 655.9L211.9 689.0" stroke="#e06666" stroke-width="2.9" fill="none"/>
<path d="M215.9 692.7L209.1 691.3L213.9 686.0z" fill="#e06666"/>
<circle cx="175.6" cy="655.9" r="2.4" fill="#cc0000"/>
<path d="M383.6 656.0L419.9 622.8" stroke="#e68e8e" stroke-width="2.9" fill="none"/>
<path d="M424.0 619.1L422.0 625.8L417.1 620.5z" fill="#e68e8e"/>
<path d="M383.6 656.0L383.6 606.9" stroke="#e68e8e" stroke-width="2.9" fill="none"/>
<path d="M383.6 601.4L387.2 607.4L380.0 607.4z" fill="#e68e8e"/>
<path d="M383.6 656.0L347.4 622.8" stroke="#e68e8e" stroke-width="2.9" fill="none"/>
<path d="M343.3 619.1L350.2 620.5L345.3 625.8z" fill="#e68e8e"/>
<path d="M383.6 656.0L347.4 689.1" stroke="#e68e8e" stroke-width="2.9" fill="none"/>
<path d="M343.3 692.8L345.3 686.1L350.2 691.4z" fill="#e68e8e"/>
<path d="M383.6 656.0L383.6 705.1" stroke="#e68e8e" stroke-width="2.9" fill="none"/>
<path d="M383.6 710.6L380.0 704.6L387.2 704.6z" fill="#e68e8e"/>
<path d="M383.6 656.0L419.9 689.1" stroke="#e68e8e" stroke-width="2.9" fill="none"/>
<path d="M424.0 692.8L417.1 691.4L422.0 686.1z" fill="#e68e8e"/>
<path d="M383.6 656.0L432.8 656.0" stroke="#1e90ff" stroke-width="2.9" fill="none"/>
<path d="M438.2 656.0L432.2 659.6L432.2 652.4z" fill="#1e90ff"/>
<path d="M383.6 656.0L423.3 627.0" stroke="#1e90ff" stroke-width="2.9" fill="none"/>
<path d="M427.8 623.8L425.0 630.2L420.8 624.4z" fill="#1e90ff"/>
<path d="M383.6 656.0L389.0 607.1" stroke="#1e90ff" stroke-width="2.9" fill="none"/>
<path d="M389.5 601.7L392.5 608.0L385.3 607.2z" fill="#1e90ff"/>
<path d="M383.6 656.0L351.3 619.0" stroke="#1e90ff" stroke-width="2.9" fill="none"/>
<path d="M347.7 614.9L354.3 617.0L348.9 621.8z" fill="#1e90ff"/>
<path d="M383.6 656.0L334.5 656.0" stroke="#1e90ff" stroke-width="2.9" fill="none"/>
<path d="M329.0 656.0L335.0 652.4L335.0 659.6z" fill="#1e90ff"/>
<path d="M383.6 656.0L351.8 693.3" stroke="#1e90ff" stroke-width="2.9" fill="none"/>
<path d="M348.2 697.5L349.3 690.6L354.8 695.2z" fill="#1e90ff"/>
<path d="M383.6 656.0L388.8 704.8" stroke="#1e90ff" stroke-width="2.9" fill="none"/>
<path d="M389.4 710.3L385.1 704.7L392.3 703.9z" fill="#1e90ff"/>
<path d="M383.6 656.0L423.4 684.7" stroke="#1e90ff" stroke-width="2.9" fill="none"/>
<path d="M427.9 688.0L420.9 687.4L425.1 681.5z" fill="#1e90ff"/>
<path d="M619.6 656.0L655.9 622.8" stroke="#e68e8e" stroke-width="2.9" fill="none"/>
<path d="M660.0 619.1L658.0 625.8L653.1 620.5z" fill="#e68e8e"/>
<path d="M619.6 656.0L619.6 606.9" stroke="#e68e8e" stroke-width="2.9" fill="none"/>
<path d="M619.6 601.4L623.2 607.4L616.0 607.4z" fill="#e68e8e"/>
<path d="M619.6 656.0L583.4 622.8" stroke="#e68e8e" stroke-width="2.9" fill="none"/>
<path d="M579.3 619.1L586.2 620.5L581.3 625.8z" fill="#e68e8e"/>
<path d="M619.6 656.0L583.4 689.1" stroke="#e68e8e" stroke-width="2.9" fill="none"/>
<path d="M579.3 692.8L581.3 686.1L586.2 691.4z" fill="#e68e8e"/>
<path d="M619.6 656.0L619.6 705.1" stroke="#e68e8e" stroke-width="2.9" fill="none"/>
<path d="M619.6 710.6L616.0 704.6L623.2 704.6z" fill="#e68e8e"/>
<path d="M619.6 656.0L655.9 689.1" stroke="#e68e8e" stroke-width="2.9" fill="none"/>
<path d="M660.0 692.8L653.1 691.4L658.0 686.1z" fill="#e68e8e"/>
<path d="M619.6 656.0L668.8 656.0" stroke="#0000c8" stroke-width="2.9" fill="none"/>
<path d="M674.2 656.0L668.2 659.6L668.2 652.4z" fill="#0000c8"/>
<path d="M619.6 656.0L661.5 630.3" stroke="#0000c8" stroke-width="2.9" fill="none"/>
<path d="M666.2 627.4L663.0 633.6L659.2 627.5z" fill="#0000c8"/>
<path d="M619.6 656.0L629.9 607.9" stroke="#0000c8" stroke-width="2.9" fill="none"/>
<path d="M631.1 602.6L633.4 609.2L626.3 607.7z" fill="#0000c8"/>
<path d="M619.6 656.0L590.8 616.2" stroke="#0000c8" stroke-width="2.9" fill="none"/>
<path d="M587.6 611.8L594.0 614.5L588.2 618.7z" fill="#0000c8"/>
<path d="M619.6 656.0L570.5 656.0" stroke="#0000c8" stroke-width="2.9" fill="none"/>
<path d="M565.0 656.0L571.0 652.4L571.0 659.6z" fill="#0000c8"/>
<path d="M619.6 656.0L592.1 696.6" stroke="#0000c8" stroke-width="2.9" fill="none"/>
<path d="M589.0 701.1L589.4 694.1L595.3 698.2z" fill="#0000c8"/>
<path d="M619.6 656.0L628.8 704.2" stroke="#0000c8" stroke-width="2.9" fill="none"/>
<path d="M629.8 709.6L625.1 704.4L632.2 703.0z" fill="#0000c8"/>
<path d="M619.6 656.0L661.4 681.8" stroke="#0000c8" stroke-width="2.9" fill="none"/>
<path d="M666.1 684.7L659.1 684.6L662.9 678.5z" fill="#0000c8"/>
<text transform="translate(199.79,600.10) scale(1,1.0088)" font-family="Liberation Sans, sans-serif" font-size="30.28" font-style="italic" fill="#000">M</text>
<text transform="translate(224.75,606.10) scale(1,0.8341)" font-family="Liberation Sans, sans-serif" font-size="25.43" font-style="italic" fill="#000">r</text>
<text transform="translate(233.82,599.76) scale(1,0.6964)" font-family="Liberation Sans, sans-serif" font-size="36.51" font-style="italic" fill="#000">=</text>
<text transform="translate(256.34,600.68) scale(1,0.9148)" font-family="Liberation Sans, sans-serif" font-size="34.46" font-style="italic" fill="#000">0</text>
<text transform="translate(450.30,600.10) scale(1,1.0317)" font-family="Liberation Sans, sans-serif" font-size="30.03" font-style="italic" fill="#000">M</text>
<text transform="translate(475.26,605.90) scale(1,0.8140)" font-family="Liberation Sans, sans-serif" font-size="25.14" font-style="italic" fill="#000">r</text>
<text transform="translate(665.79,599.90) scale(1,1.0088)" font-family="Liberation Sans, sans-serif" font-size="30.28" font-style="italic" fill="#000">M</text>
<text transform="translate(690.55,606.00) scale(1,0.8194)" font-family="Liberation Sans, sans-serif" font-size="25.43" font-style="italic" fill="#000">r</text>
<path d="M451.9 610.1L471.2 610.1" stroke="#1e90ff" stroke-width="1.9" fill="none"/>
<path d="M474.9 610.1L470.7 612.3L470.7 607.9z" fill="#1e90ff"/>
<path d="M666.0 610.2L707.6 610.2" stroke="#0000c8" stroke-width="3.7" fill="none"/>
<path d="M714.3 610.2L707.1 614.1L707.1 606.3z" fill="#0000c8"/>
<path d="M66.7 726.35V704.0500000000001M66.7 726.35H89.6" stroke="#000" stroke-width="1" fill="none"/>
<path d="M66.7 701.0500000000001l-1.6 4h3.2zM92.6 726.35l-4 -1.6v3.2z" fill="#000"/>
<circle cx="66.7" cy="726.35" r="2.6" fill="#000"/>
<text transform="translate(60.70,698.41) scale(1,0.9566)" font-family="Liberation Sans, sans-serif" font-size="20.20" font-style="italic" fill="#000">b</text>
<text transform="translate(53.63,730.92) scale(1,1.0492)" font-family="Liberation Sans, sans-serif" font-size="17.58" font-style="italic" fill="#000">c</text>
<text transform="translate(97.48,731.41) scale(1,1.0298)" font-family="Liberation Sans, sans-serif" font-size="18.80" font-style="italic" fill="#000">a</text>
<path d="M68.0 846.3V825.0M68.0 846.3H90.3" stroke="#000" stroke-width="1" fill="none"/>
<path d="M68.0 822.0l-1.6 4h3.2zM93.3 846.3l-4 -1.6v3.2z" fill="#000"/>
<circle cx="68.0" cy="846.3" r="2.6" fill="#000"/>
<text transform="translate(62.63,819.13) scale(1,0.9453)" font-family="Liberation Sans, sans-serif" font-size="17.58" font-style="italic" fill="#000">c</text>
<text transform="translate(55.32,852.03) scale(1,0.9252)" font-family="Liberation Sans, sans-serif" font-size="18.82" font-style="italic" fill="#000">b</text>
<text transform="translate(99.56,851.72) scale(1,0.9509)" font-family="Liberation Sans, sans-serif" font-size="19.40" font-style="italic" fill="#000">a</text>
<path d="M171.3 769.7V816.3" stroke="#777" stroke-width="0.8"/>
<path d="M171.3 769.7L135.8 769.7" stroke="#cc0000" stroke-width="2.6" fill="none"/>
<path d="M128.8 769.7L136.3 766.2L136.3 773.2z" fill="#cc0000"/>
<path d="M171.3 774.6L145.3 776.4" stroke="#cc0000" stroke-width="1.5" fill="none"/>
<path d="M141.3 776.7L145.6 774.4L145.9 778.4z" fill="#cc0000"/>
<path d="M171.3 778.9L162.2 781.6" stroke="#cc0000" stroke-width="1.5" fill="none"/>
<path d="M158.4 782.7L162.2 779.5L163.3 783.3z" fill="#cc0000"/>
<path d="M170.4 792.8L182.3 791.1" stroke="#cc0000" stroke-width="1.5" fill="none"/>
<path d="M186.3 790.6L182.1 793.2L181.6 789.2z" fill="#cc0000"/>
<path d="M171.3 797.5L196.7 795.9" stroke="#cc0000" stroke-width="1.6" fill="none"/>
<path d="M201.2 795.6L196.3 798.1L196.1 793.7z" fill="#cc0000"/>
<path d="M171.3 801.8L207.4 801.8" stroke="#cc0000" stroke-width="2.6" fill="none"/>
<path d="M214.4 801.8L206.9 805.3L206.9 798.3z" fill="#cc0000"/>
<path d="M171.3 806.7L196.7 808.5" stroke="#cc0000" stroke-width="1.6" fill="none"/>
<path d="M201.2 808.8L196.1 810.6L196.4 806.3z" fill="#cc0000"/>
<path d="M171.3 811.0L185.1 814.2" stroke="#cc0000" stroke-width="1.6" fill="none"/>
<path d="M189.5 815.2L184.1 816.2L185.1 811.9z" fill="#cc0000"/>
<polyline points="134.3,763.9 132.9,764.4 131.7,765.0 130.5,765.7 129.5,766.5 128.4,767.5 127.5,768.6 126.9,769.8 126.9,771.0 127.5,772.3 128.3,773.5 129.3,774.6 130.2,775.4 131.3,776.2 132.5,776.9 133.7,777.5 135.0,778.1 136.4,778.6 137.7,779.2 138.9,779.7 140.2,780.2 141.5,780.6 142.8,781.1 144.0,781.5 145.4,781.9 146.7,782.3 148.0,782.7 149.3,783.1 150.6,783.5 151.9,783.9 153.3,784.3 154.6,784.7 155.9,785.1 157.2,785.5 158.5,785.9 159.8,786.3 161.1,786.7 162.4,787.1 163.7,787.5 165.0,787.9 166.4,788.2 167.7,788.6 169.0,789.0 170.3,789.3 171.6,789.7 172.9,790.0 174.3,790.4 175.6,790.7 176.9,791.0 178.3,791.3 179.6,791.6 180.9,791.9 182.3,792.2 183.6,792.5 184.9,792.8 186.3,793.2 187.6,793.5 188.9,793.8 190.3,794.1 191.6,794.4 192.9,794.7 194.3,795.0 195.6,795.4 196.9,795.7 198.3,796.0 199.6,796.3 200.9,796.6 202.2,797.0 203.6,797.3 204.9,797.6 206.2,798.0 207.5,798.4 208.9,798.7 210.2,799.1 211.6,799.5 213.0,799.9 214.3,800.3 215.5,800.9 216.5,801.5 217.6,802.6 218.3,803.8 218.1,805.0 217.4,806.3 216.6,807.4 215.6,808.2 214.5,808.9 213.2,809.5 211.9,810.0 210.5,810.5 209.2,810.9 207.9,811.4 206.6,811.7 205.3,812.1 203.9,812.4 202.6,812.8 201.3,813.1 199.9,813.4 198.6,813.7 197.2,813.9 195.9,814.2 194.5,814.4 193.2,814.6 191.8,814.8 190.5,815.0 189.1,815.2 187.8,815.4 186.4,815.6 185.1,815.8 183.7,816.0 182.4,816.2 181.0,816.3 179.6,816.5 178.3,816.6 176.9,816.8 175.5,816.9 174.2,817.0 172.8,817.1 171.4,817.2 170.1,817.3 168.7,817.4" fill="none" stroke="#000" stroke-width="2.1" stroke-linecap="round" stroke-linejoin="round"/>
<path d="M381.7 775.7V814.2" stroke="#777" stroke-width="0.8"/>
<path d="M381.7 776.7L351.4 776.7" stroke="#cc0000" stroke-width="2.6" fill="none"/>
<path d="M344.4 776.7L351.9 773.2L351.9 780.2z" fill="#cc0000"/>
<path d="M382.7 781.4L360.0 783.3" stroke="#cc0000" stroke-width="1.5" fill="none"/>
<path d="M356.0 783.6L360.3 781.2L360.6 785.2z" fill="#cc0000"/>
<path d="M381.7 785.3L374.8 787.4" stroke="#cc0000" stroke-width="1.5" fill="none"/>
<path d="M371.0 788.5L374.7 785.3L375.9 789.1z" fill="#cc0000"/>
<path d="M381.7 795.6L392.1 793.9" stroke="#cc0000" stroke-width="1.4" fill="none"/>
<path d="M395.6 793.4L391.9 795.9L391.4 792.1z" fill="#cc0000"/>
<path d="M381.7 800.7L407.2 799.2" stroke="#cc0000" stroke-width="2.8" fill="none"/>
<path d="M414.2 798.8L406.9 802.7L406.5 795.7z" fill="#cc0000"/>
<polyline points="348.5,772.5 347.5,772.8 346.7,773.2 345.8,773.6 345.1,774.1 344.5,774.6 343.8,775.3 343.2,776.1 342.7,777.0 342.5,777.8 342.7,778.6 343.2,779.4 343.8,780.2 344.6,780.9 345.2,781.3 345.9,781.7 346.7,782.1 347.5,782.4 348.4,782.7 349.3,782.9 350.3,783.2 351.2,783.4 352.2,783.6 353.1,783.9 354.0,784.1 354.9,784.3 355.8,784.5 356.7,784.7 357.6,784.9 358.5,785.1 359.4,785.3 360.3,785.5 361.2,785.7 362.1,785.9 363.0,786.0 363.9,786.2 364.8,786.4 365.7,786.6 366.6,786.7 367.5,786.9 368.4,787.1 369.3,787.3 370.2,787.4 371.1,787.6 372.0,787.8 372.9,787.9 373.8,788.1 374.7,788.3 375.6,788.4 376.5,788.6 377.4,788.8 378.3,788.9 379.2,789.1 380.1,789.3 381.0,789.5 381.9,789.6 382.8,789.8 383.7,790.0 384.6,790.2 385.5,790.4 386.4,790.6 387.3,790.8 388.2,791.0 389.1,791.2 390.0,791.4 390.9,791.7 391.8,791.9 392.6,792.1 393.5,792.3 394.4,792.5 395.3,792.8 396.2,793.0 397.1,793.2 398.0,793.4 398.9,793.7 399.7,793.9 400.6,794.2 401.5,794.4 402.4,794.7 403.3,794.9 404.2,795.2 405.0,795.4 405.9,795.7 406.8,795.9 407.7,796.2 408.6,796.5 409.5,796.7 410.3,797.0 411.2,797.3 412.1,797.6 412.9,797.9 413.8,798.2 414.7,798.5 415.5,798.8 416.4,799.2 417.2,799.5 418.1,799.8 418.9,800.2 419.8,800.5 420.6,800.9 421.5,801.3 422.3,801.7 423.2,802.1 424.0,802.5 424.8,803.0 425.6,803.5 426.3,803.9 427.1,804.5 427.8,805.0 428.5,805.6 429.3,806.3 430.0,807.0 430.5,807.7 430.8,808.5 430.9,809.4 431.0,810.3 431.0,811.3 430.8,812.0 430.2,812.7 429.3,813.3" fill="none" stroke="#000" stroke-width="2.1" stroke-linecap="round" stroke-linejoin="round"/>
<circle cx="379.2" cy="814.6" r="1.3" fill="#000"/>
<path d="M380.6 808.1L426.3 808.1" stroke="#1e90ff" stroke-width="2.5" fill="none"/>
<path d="M432.3 808.1L425.8 811.4L425.8 804.8z" fill="#1e90ff"/>
<path d="M378.9 814.7L426.3 814.7" stroke="#1e90ff" stroke-width="2.5" fill="none"/>
<path d="M432.3 814.7L425.8 818.0L425.8 811.4z" fill="#1e90ff"/>
<path d="M614.9 775.7V815" stroke="#777" stroke-width="0.8"/>
<path d="M614.9 776.7L583.6 776.7" stroke="#cc0000" stroke-width="2.6" fill="none"/>
<path d="M576.6 776.7L584.1 773.2L584.1 780.2z" fill="#cc0000"/>
<path d="M615.3 781.7L592.8 783.5" stroke="#cc0000" stroke-width="1.5" fill="none"/>
<path d="M588.8 783.8L593.1 781.5L593.4 785.4z" fill="#cc0000"/>
<path d="M614.9 785.9L607.5 788.0" stroke="#cc0000" stroke-width="1.5" fill="none"/>
<path d="M603.7 789.1L607.5 785.9L608.6 789.8z" fill="#cc0000"/>
<path d="M614.9 795.6L626.3 793.9" stroke="#cc0000" stroke-width="1.4" fill="none"/>
<path d="M629.8 793.4L626.1 795.9L625.6 792.1z" fill="#cc0000"/>
<polyline points="581.3,772.9 580.2,773.1 579.2,773.4 578.3,773.8 577.5,774.3 576.7,774.8 576.0,775.5 575.3,776.4 574.8,777.3 574.7,778.1 575.1,779.0 575.8,779.9 576.6,780.7 577.3,781.2 578.1,781.6 578.9,782.0 579.8,782.3 580.8,782.6 581.8,782.9 582.8,783.2 583.8,783.4 584.8,783.6 585.9,783.9 586.9,784.1 587.9,784.4 588.8,784.6 589.8,784.9 590.7,785.1 591.7,785.3 592.7,785.6 593.6,785.8 594.6,786.0 595.6,786.3 596.5,786.5 597.5,786.7 598.5,786.9 599.5,787.1 600.4,787.4 601.4,787.6 602.4,787.8 603.3,788.0 604.3,788.2 605.3,788.5 606.2,788.7 607.2,788.9 608.2,789.1 609.1,789.3 610.1,789.5 611.1,789.7 612.1,790.0 613.0,790.2 614.0,790.4 615.0,790.6 615.9,790.8 616.9,791.1 617.9,791.3 618.8,791.5 619.8,791.7 620.8,791.9 621.8,792.1 622.7,792.4 623.7,792.6 624.7,792.8 625.6,793.0 626.6,793.3 627.6,793.5 628.5,793.7 629.5,793.9 630.5,794.2 631.4,794.4 632.4,794.6 633.4,794.9 634.3,795.1 635.3,795.4 636.3,795.6 637.2,795.9 638.2,796.1 639.1,796.4 640.1,796.6 641.1,796.9 642.0,797.1 643.0,797.4 643.9,797.7 644.9,798.0 645.8,798.2 646.8,798.5 647.8,798.8 648.7,799.1 649.6,799.4 650.6,799.7 651.5,800.0 652.5,800.3 653.5,800.6 654.4,800.9 655.4,801.2 656.3,801.6 657.2,801.9 658.2,802.3 659.1,802.7 660.0,803.1 660.8,803.5 661.7,804.0 662.7,804.5 663.7,805.0 664.6,805.6 665.4,806.2 666.0,806.9 666.4,807.6 666.6,808.6 666.8,809.6 667.0,810.7 666.9,811.5 666.4,812.4 665.6,813.1 664.7,813.7 663.9,814.1 663.0,814.5 662.1,814.9 661.1,815.2 660.0,815.3" fill="none" stroke="#000" stroke-width="2.1" stroke-linecap="round" stroke-linejoin="round"/>
<circle cx="613" cy="816" r="1.3" fill="#000"/>
<path d="M614.9 801.3L663.3 801.3" stroke="#0000c8" stroke-width="2.9" fill="none"/>
<path d="M669.3 801.3L662.8 804.8L662.8 797.8z" fill="#0000c8"/>
<path d="M614.9 808.8L663.3 808.8" stroke="#0000c8" stroke-width="2.9" fill="none"/>
<path d="M669.3 808.8L662.8 812.3L662.8 805.3z" fill="#0000c8"/>
<path d="M612.9 815.7L663.3 815.7" stroke="#0000c8" stroke-width="2.9" fill="none"/>
<path d="M669.3 815.7L662.8 819.2L662.8 812.2z" fill="#0000c8"/>
<text transform="translate(120.91,808.10) scale(1,0.9459)" font-family="Liberation Sans, sans-serif" font-size="25.37" font-style="normal" fill="#000">Er</text>
<text transform="translate(120.94,841.56) scale(1,0.9516)" font-family="Liberation Sans, sans-serif" font-size="25.02" font-style="normal" fill="#000">Nb</text>
</g>
</svg>
</body></html>
